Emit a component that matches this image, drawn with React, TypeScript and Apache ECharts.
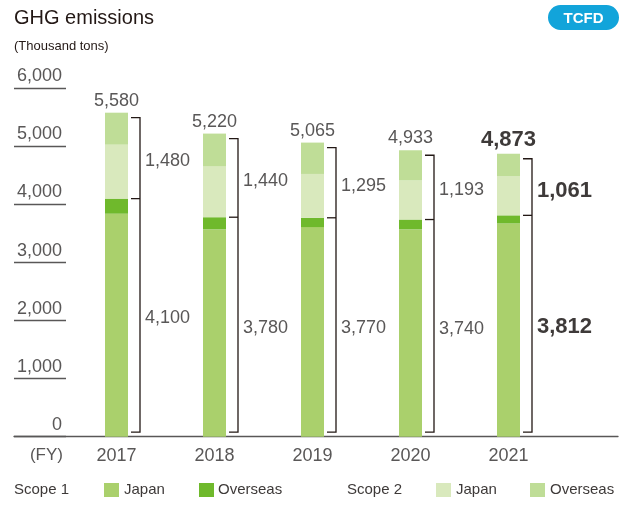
import React, { useEffect, useRef } from "react";
import * as echarts from "echarts";

const categories = ["2017", "2018", "2019", "2020", "2021"];
const scope1Japan = [3840, 3570, 3610, 3570, 3672];
const scope1Overseas = [260, 210, 160, 170, 140];
const scope2Japan = [930, 880, 755, 673, 671];
const scope2Overseas = [550, 560, 540, 520, 390];
const scope1Totals = [4100, 3780, 3770, 3740, 3812];
const scope2Totals = [1480, 1440, 1295, 1193, 1061];
const totals = [5580, 5220, 5065, 4933, 4873];
const highlightIndex = 4;

const FONT = "'Liberation Sans', Arial, Helvetica, sans-serif";
const GRAY = "#595757";
const DARK = "#3e3a39";
const LINE = "#231815";
const C_S1J = "#aad06c";
const C_S1O = "#6fb92c";
const C_S2J = "#d9e9bd";
const C_S2O = "#bfdd97";

const fmt = (v: number) => v.toLocaleString("en-US");

export default function App() {
  const ref = useRef<HTMLDivElement>(null);
  useEffect(() => {
    if (!ref.current) return;
    const chart = echarts.init(ref.current, null, { renderer: "svg" });
    const gridTop = 88.3;
    const gridBottom = 70.3;

    const barSeries = (name: string, data: number[], color: string, extra: any = {}) => ({
      name,
      type: "bar",
      stack: "total",
      xAxisIndex: 1,
      yAxisIndex: 1,
      barWidth: 23,
      data,
      itemStyle: { color },
      emphasis: { disabled: true },
      ...extra,
    });

    const legendItems = [
      { type: "text", left: 14, top: 481, style: { text: "Scope 1", fontSize: 15, fontFamily: FONT, fill: DARK } },
      { type: "rect", shape: { x: 104, y: 483, width: 15, height: 14 }, style: { fill: C_S1J } },
      { type: "text", left: 124, top: 481, style: { text: "Japan", fontSize: 15, fontFamily: FONT, fill: DARK } },
      { type: "rect", shape: { x: 199, y: 483, width: 15, height: 14 }, style: { fill: C_S1O } },
      { type: "text", left: 218, top: 481, style: { text: "Overseas", fontSize: 15, fontFamily: FONT, fill: DARK } },
      { type: "text", left: 347, top: 481, style: { text: "Scope 2", fontSize: 15, fontFamily: FONT, fill: DARK } },
      { type: "rect", shape: { x: 436, y: 483, width: 15, height: 14 }, style: { fill: C_S2J } },
      { type: "text", left: 456, top: 481, style: { text: "Japan", fontSize: 15, fontFamily: FONT, fill: DARK } },
      { type: "rect", shape: { x: 530, y: 483, width: 15, height: 14 }, style: { fill: C_S2O } },
      { type: "text", left: 550, top: 481, style: { text: "Overseas", fontSize: 15, fontFamily: FONT, fill: DARK } },
    ];

    chart.setOption({
      animation: false,
      textStyle: { fontFamily: FONT },
      grid: [
        { left: 14, right: 9, top: gridTop, bottom: gridBottom },
        { left: 67.5, width: 490, top: gridTop, bottom: gridBottom },
      ],
      xAxis: [
        {
          type: "value",
          gridIndex: 0,
          min: 0,
          max: 1,
          axisLine: { show: true, lineStyle: { color: GRAY, width: 1.3 } },
          axisTick: { show: false },
          axisLabel: { show: false },
          splitLine: { show: false },
        },
        {
          type: "category",
          gridIndex: 1,
          data: categories,
          axisLine: { show: false },
          axisTick: { show: false },
          axisLabel: { color: GRAY, fontSize: 18, fontFamily: FONT, margin: 9 },
        },
      ],
      yAxis: [
        {
          type: "value",
          gridIndex: 0,
          min: 0,
          max: 6000,
          interval: 1000,
          axisLine: { show: false },
          splitLine: { show: false },
          axisTick: { show: true, inside: true, length: 52, lineStyle: { color: GRAY, width: 1.3 } },
          axisLabel: {
            inside: true,
            margin: 48,
            align: "right",
            verticalAlign: "bottom",
            padding: [0, 0, 4, 0],
            color: GRAY,
            fontSize: 18,
            fontFamily: FONT,
            formatter: (v: number) => fmt(v),
          },
        },
        {
          type: "value",
          gridIndex: 1,
          min: 0,
          max: 6000,
          interval: 1000,
          show: false,
          splitLine: { show: false },
        },
      ],
      series: [
        barSeries("Scope 1 Japan", scope1Japan, C_S1J),
        barSeries("Scope 1 Overseas", scope1Overseas, C_S1O),
        barSeries("Scope 2 Japan", scope2Japan, C_S2J),
        barSeries("Scope 2 Overseas", scope2Overseas, C_S2O, {
          label: {
            show: true,
            position: "top",
            distance: 4,
            formatter: (p: any) =>
              p.dataIndex === highlightIndex ? `{b|${fmt(totals[p.dataIndex])}}` : `{n|${fmt(totals[p.dataIndex])}}`,
            rich: {
              n: { fontSize: 18, color: GRAY, fontFamily: FONT },
              b: { fontSize: 22, color: DARK, fontWeight: "bold", fontFamily: FONT },
            },
          },
        }),
        {
          type: "custom",
          xAxisIndex: 1,
          yAxisIndex: 1,
          clip: false,
          silent: true,
          encode: { x: 0, y: 1 },
          data: categories.map((_, i) => [i, scope1Totals[i], totals[i], scope2Totals[i]]),
          renderItem: (params: any, api: any) => {
            const i = params.dataIndex;
            const top = api.coord([i, api.value(2)]);
            const mid = api.coord([i, api.value(1)]);
            const base = api.coord([i, 0]);
            const cx = top[0];
            const xl = cx + 23.5;
            const xs = cx + 14.5;
            const yT = top[1] + 5;
            const yM = mid[1];
            const yB = base[1] - 4.5;
            const hl = i === highlightIndex;
            const ts = {
              fontSize: hl ? 22 : 18,
              fontWeight: hl ? "bold" : "normal",
              fontFamily: FONT,
              fill: hl ? DARK : GRAY,
              align: "left",
              verticalAlign: "middle",
            };
            return {
              type: "group",
              children: [
                {
                  type: "polyline",
                  shape: { points: [[xs, yT], [xl, yT], [xl, yB], [xs, yB]] },
                  style: { stroke: LINE, lineWidth: 1.3, fill: "none" },
                },
                {
                  type: "line",
                  shape: { x1: xs, y1: yM, x2: xl, y2: yM },
                  style: { stroke: LINE, lineWidth: 1.3 },
                },
                {
                  type: "text",
                  x: xl + 5,
                  y: (yT + yM) / 2 + 2,
                  style: { ...ts, text: fmt(api.value(3)) },
                },
                {
                  type: "text",
                  x: xl + 5,
                  y: (yM + yB) / 2 + 2,
                  style: { ...ts, text: fmt(api.value(1)) },
                },
              ],
            };
          },
        },
      ],
      graphic: [
        { type: "text", left: 14, top: 7, style: { text: "GHG emissions", fontSize: 20, fontFamily: FONT, fill: LINE } },
        { type: "text", left: 14, top: 39, style: { text: "(Thousand tons)", fontSize: 13, fontFamily: FONT, fill: LINE } },
        {
          type: "text",
          x: 63,
          y: 454,
          style: { text: "(FY)", fontSize: 17, fontFamily: FONT, fill: GRAY, align: "right", verticalAlign: "middle" },
        },
        { type: "rect", shape: { x: 548, y: 5, width: 71, height: 25, r: 12.5 }, style: { fill: "#12a4da" } },
        {
          type: "text",
          x: 583.5,
          y: 17.5,
          style: {
            text: "TCFD",
            fontSize: 15,
            fontWeight: "bold",
            fontFamily: FONT,
            fill: "#ffffff",
            align: "center",
            verticalAlign: "middle",
          },
        },
        ...legendItems,
      ],
    });
    return () => chart.dispose();
  }, []);
  return (
    <div
      ref={ref}
      style={{ position: "fixed", left: 0, top: 0, width: 627, height: 507 }}
    />
  );
}
